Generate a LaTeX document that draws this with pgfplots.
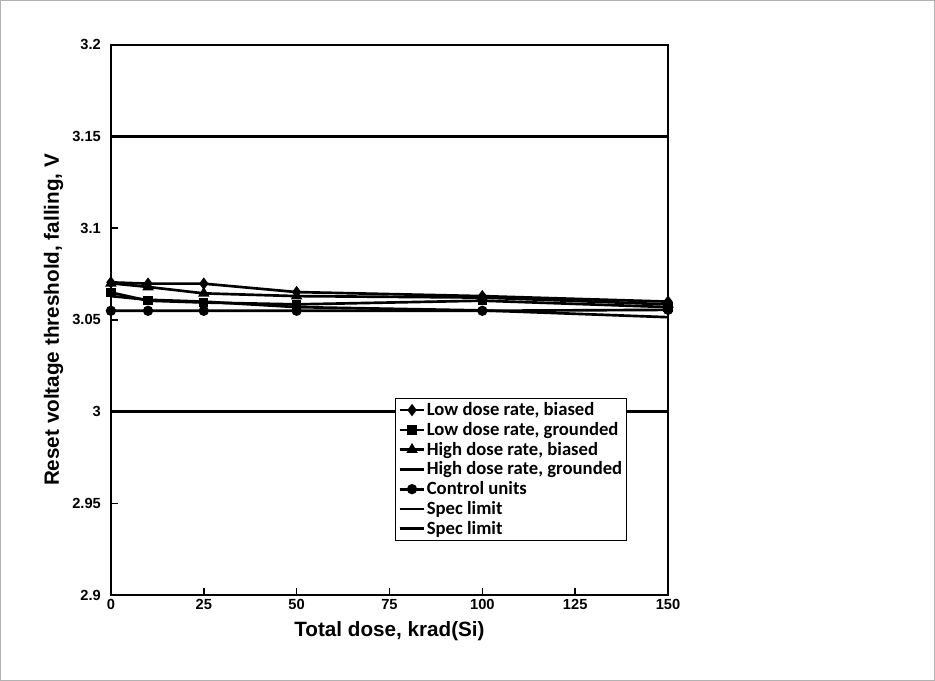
\documentclass[border=0pt]{standalone}
\usepackage{pgfplots}
\pgfplotsset{compat=1.18}
\usepackage{fontspec}
\setmainfont{Liberation Sans}
\newfontfamily\carl{Carlito}
\begin{document}
\begin{tikzpicture}
\draw[gray!60,line width=0.6pt] (0.4pt,0.4pt) rectangle (700.85pt,510.35pt);
\begin{axis}[at={(83.25pt,64.5pt)},anchor=south west,scale only axis,
width=417.75pt,height=412.5pt,
xmin=0,xmax=150,ymin=2.9,ymax=3.2,
xtick={0,25,...,150},ytick={2.9,2.95,...,3.2},
yticklabels={2.9,2.95,3,3.05,3.1,3.15,3.2},
xticklabels={0,25,50,75,100,125,150},
tick align=inside,tick style={black,line width=1.2pt},
major tick length=5pt,xtick pos=bottom,ytick pos=left,
axis line style={line width=1.8pt},
ticklabel style={font=\bfseries\fontsize{11}{12}\selectfont},
yticklabel style={xshift=-4pt},
xlabel={\bfseries Total dose, krad(Si)},
ylabel={\bfseries Reset voltage threshold, falling, V},
label style={font=\bfseries\fontsize{15.5}{17}\selectfont},
xlabel style={yshift=-2pt},
legend style={at={(rel axis cs:0.51,0.358)},anchor=north west,
 font=\carl\bfseries\fontsize{14}{16}\selectfont,draw=black,line width=0.7pt,
 row sep=1.5pt,inner sep=2pt,
 nodes={inner ysep=1pt,inner xsep=1pt}},
legend image code/.code={\draw[line width=2pt,black] (0cm,0cm) -- (0.65cm,0cm);
 \draw[#1,mark repeat=2,mark phase=2] plot coordinates {(0cm,0cm)(0.33cm,0cm)(0.65cm,0cm)};},
legend cell align=left,
L/.style={line width=2pt,black},
]
\addplot[L,mark=diamond*,mark size=3pt] coordinates {(0,3.0705)(10,3.0698)(25,3.0698)(50,3.0652)(100,3.0630)(150,3.0600)};
\addplot[L,mark=square*,mark size=2.5pt] coordinates {(0,3.0650)(10,3.0605)(25,3.0595)(50,3.0585)(100,3.0605)(150,3.0570)};
\addplot[L,mark=triangle*,mark size=3pt] coordinates {(0,3.0700)(10,3.0680)(25,3.0645)(50,3.0630)(100,3.0622)(150,3.0585)};
\addplot[L,mark=none] coordinates {(0,3.0630)(10,3.0610)(25,3.0600)(50,3.0570)(100,3.0552)(150,3.0515)};
\addplot[L,mark=*,mark size=2.8pt] coordinates {(0,3.0550)(10,3.0550)(25,3.0550)(50,3.0550)(100,3.0550)(150,3.0555)};
\addplot[L,mark=none] coordinates {(0,3.15)(150,3.15)};
\addplot[L,mark=none] coordinates {(0,3.0)(150,3.0)};
\legend{{Low dose rate, biased},{Low dose rate, grounded},{High dose rate, biased},{High dose rate, grounded},{Control units},{Spec limit},{Spec limit}}
\end{axis}
\end{tikzpicture}
\end{document}
